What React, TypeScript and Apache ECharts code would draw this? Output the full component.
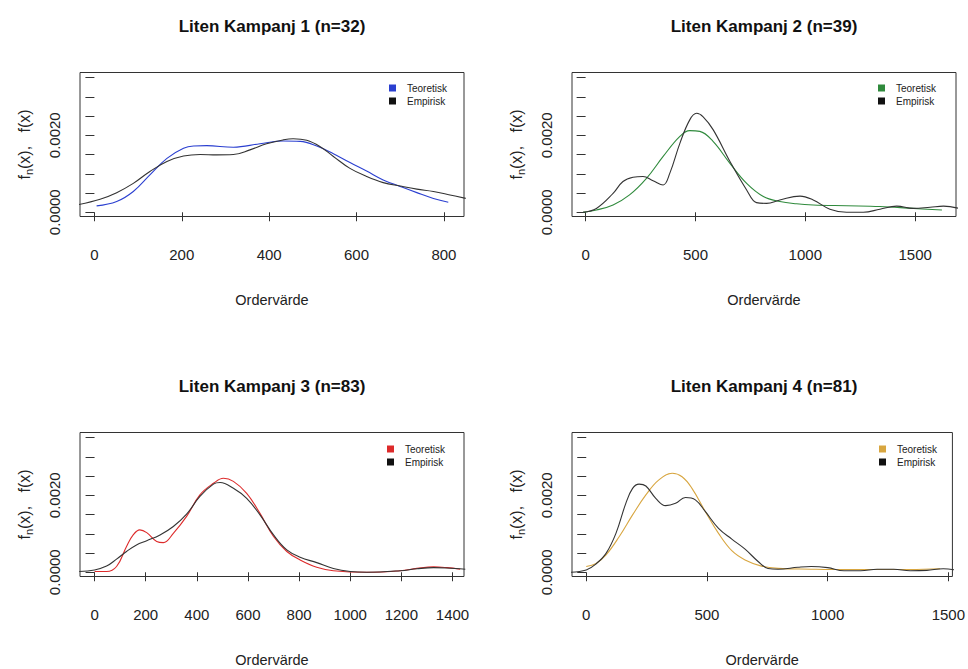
import React, { useEffect, useRef } from "react";
import * as echarts from "echarts";

// ---------- data ----------
const titles = [
  "Liten Kampanj 1 (n=32)",
  "Liten Kampanj 2 (n=39)",
  "Liten Kampanj 3 (n=83)",
  "Liten Kampanj 4 (n=81)",
];
const legendNames = ["Teoretisk", "Empirisk"];
const xAxisName = "Ordervärde";

const xTicks1 = [0, 200, 400, 600, 800];
const xTicks2 = [0, 500, 1000, 1500];
const xTicks3 = [0, 200, 400, 600, 800, 1000, 1200, 1400];
const xTicks4 = [0, 500, 1000, 1500];
const yTicks = [0, 0.0005, 0.001, 0.0015, 0.002, 0.0025, 0.003, 0.0035];
const yLabelTicks = [0, 0.002];

// Kampanj 1
const k1Teo = [
  [5, 0.000165], [51, 0.00028], [89, 0.00054], [127, 0.00097], [166, 0.0014],
  [204, 0.00166], [227, 0.00172], [257, 0.00173], [318, 0.00169], [379, 0.00178],
  [432, 0.00185], [471, 0.00184], [509, 0.00172], [547, 0.00152], [585, 0.00129],
  [623, 0.00107], [661, 0.00084], [700, 0.00067], [738, 0.00051], [776, 0.00036],
  [810, 0.00026],
];
const k1Emp = [
  [-40, 0.00019], [13, 0.00034], [51, 0.00051], [89, 0.00075], [127, 0.00106],
  [166, 0.00132], [204, 0.00146], [242, 0.0015], [280, 0.00149], [318, 0.0015],
  [356, 0.00162], [394, 0.00178], [432, 0.00188], [455, 0.00191], [486, 0.00187],
  [516, 0.00171], [547, 0.00145], [585, 0.00114], [623, 0.00093], [661, 0.00077],
  [700, 0.00068], [738, 0.0006], [776, 0.00054], [814, 0.00045], [850, 0.00036],
];
// Kampanj 2
const k2Teo = [
  [-12, 0], [49, 0.00006], [125, 0.00019], [200, 0.00045], [277, 0.00088],
  [353, 0.00145], [429, 0.00197], [474, 0.00212], [520, 0.0021], [580, 0.00184],
  [657, 0.00127], [733, 0.00075], [809, 0.00041], [884, 0.00028], [960, 0.00022],
  [1036, 0.00019], [1188, 0.00017], [1340, 0.00015], [1492, 0.0001], [1622, 0.00006],
];
const k2Emp = [
  [-12, 0], [49, 0.0001], [125, 0.00049], [170, 0.0008], [216, 0.00091],
  [261, 0.00093], [307, 0.00082], [353, 0.00071], [383, 0.00101], [429, 0.00179],
  [474, 0.0024], [505, 0.00257], [535, 0.00248], [581, 0.00214], [657, 0.00132],
  [733, 0.00058], [778, 0.00025], [824, 0.00023], [884, 0.00032], [976, 0.00042],
  [1036, 0.00032], [1112, 0.00008], [1188, 0], [1264, 0], [1340, 0.00008],
  [1416, 0.00016], [1492, 0.0001], [1568, 0.00013], [1629, 0.00016], [1700, 0.0001],
];
// Kampanj 3
const k3Teo = [
  [0, 0.00002], [47, 0.00002], [86, 0.00015], [125, 0.00067], [151, 0.00097],
  [177, 0.0011], [204, 0.00103], [243, 0.0008], [269, 0.00077], [308, 0.00101],
  [360, 0.00145], [412, 0.00201], [465, 0.00231], [504, 0.00244], [543, 0.00236],
  [595, 0.00205], [647, 0.00153], [700, 0.00093], [752, 0.00054], [804, 0.00032],
  [869, 0.00013], [934, 0.00004], [1065, 0], [1196, 0.00004], [1261, 0.0001],
  [1326, 0.00014], [1378, 0.00012], [1430, 0.00008],
];
const k3Emp = [
  [-60, 0.00002], [0, 0.00006], [47, 0.00016], [86, 0.00034], [125, 0.00054],
  [164, 0.00071], [204, 0.00082], [256, 0.00097], [308, 0.00119], [360, 0.00151],
  [412, 0.00197], [465, 0.00229], [491, 0.00233], [543, 0.00218], [595, 0.00192],
  [647, 0.00149], [700, 0.00097], [752, 0.00058], [804, 0.00039], [869, 0.00025],
  [934, 0.0001], [1000, 0.00002], [1065, 0], [1196, 0.00004], [1261, 0.00009],
  [1326, 0.00012], [1378, 0.00011], [1450, 0.00008],
];
// Kampanj 4
const k4Teo = [
  [0, 0.00015], [41, 0.00023], [82, 0.00045], [137, 0.00093], [192, 0.00149],
  [247, 0.00201], [301, 0.0024], [356, 0.00257], [397, 0.00248], [438, 0.00218],
  [493, 0.00158], [548, 0.00101], [603, 0.00056], [658, 0.00032], [726, 0.00016],
  [795, 0.0001], [932, 0.00008], [1068, 0.00007], [1205, 0.00007], [1342, 0.00007],
  [1466, 0.00009],
];
const k4Emp = [
  [-65, 0], [0, 0.00006], [41, 0.00022], [82, 0.00049], [123, 0.00101],
  [164, 0.00179], [192, 0.00218], [219, 0.00229], [247, 0.00224], [288, 0.00192],
  [329, 0.00173], [370, 0.00179], [411, 0.00194], [452, 0.00188], [493, 0.00158],
  [548, 0.00114], [603, 0.00086], [658, 0.0006], [712, 0.00028], [753, 0.0001],
  [795, 0.00008], [877, 0.00013], [932, 0.00015], [1000, 0.00012], [1068, 0.00004],
  [1137, 0.00004], [1205, 0.00008], [1274, 0.00008], [1342, 0.00004], [1411, 0.00005],
  [1479, 0.00009], [1530, 0.00006],
];

const teoData = [k1Teo, k2Teo, k3Teo, k4Teo];
const empData = [k1Emp, k2Emp, k3Emp, k4Emp];
const xTickSets = [xTicks1, xTicks2, xTicks3, xTicks4];

// ---------- styling / layout ----------
const FONT = "'Liberation Sans', Arial, Helvetica, sans-serif";
const teoColors = ["#2a3fd0", "#2f8a3c", "#dd2a2a", "#d8a640"];
const empColor = "#333333";
const xRanges = [
  [-33, 846],
  [-62, 1686],
  [-57, 1445],
  [-59, 1517],
];
const yMin = -0.00011;
const yMax = 0.00363;
const gridPos = [
  { left: 80, top: 72.5 },
  { left: 572, top: 72.5 },
  { left: 80, top: 432.5 },
  { left: 572, top: 432.5 },
];
const legendPos = [
  { left: 389, top: 82 },
  { left: 878, top: 82 },
  { left: 387, top: 443 },
  { left: 879, top: 443 },
];

export default function App() {
  const ref = useRef<HTMLDivElement>(null);

  useEffect(() => {
    if (!ref.current) return;
    const chart = echarts.init(ref.current, undefined, { renderer: "svg" });

    const grid = gridPos.map((p) => ({
      left: p.left,
      top: p.top,
      width: 384,
      height: 144,
      show: true,
      borderColor: "#333",
      borderWidth: 1,
      backgroundColor: "transparent",
    }));

    const xAxis = xTickSets.map((ticks, i) => ({
      type: "value",
      gridIndex: i,
      min: xRanges[i][0],
      max: xRanges[i][1],
      axisLine: { show: false },
      splitLine: { show: false },
      axisTick: {
        show: true,
        inside: false,
        length: 9,
        customValues: ticks,
        lineStyle: { color: "#333", width: 1 },
      },
      axisLabel: {
        show: true,
        customValues: ticks,
        margin: 30,
        fontSize: 15,
        color: "#222",
        fontFamily: FONT,
        formatter: (v: number) => String(v),
        showMinLabel: true,
        showMaxLabel: true,
        hideOverlap: false,
      },
      name: xAxisName,
      nameLocation: "middle",
      nameGap: 76,
      nameTextStyle: { fontSize: 14.5, color: "#222", fontFamily: FONT },
    }));

    const yAxis = [0, 1, 2, 3].map((i) => ({
      type: "value",
      gridIndex: i,
      min: yMin,
      max: yMax,
      axisLine: { show: false },
      splitLine: { show: false },
      axisTick: {
        show: true,
        inside: false,
        length: 9,
        customValues: yTicks,
        lineStyle: { color: "#333", width: 1 },
      },
      axisLabel: {
        show: true,
        customValues: yLabelTicks,
        rotate: 90,
        margin: 18,
        fontSize: 15,
        color: "#222",
        fontFamily: FONT,
        formatter: (v: number) => v.toFixed(4),
        showMinLabel: true,
        showMaxLabel: true,
      },
      name: "{a|f}{b|n}{a|(x),   f(x)}",
      nameLocation: "middle",
      nameGap: 46,
      nameTextStyle: {
        fontFamily: FONT,
        color: "#222",
        rich: {
          a: { fontSize: 16, lineHeight: 20, verticalAlign: "middle", color: "#222", fontFamily: FONT },
          b: { fontSize: 11, lineHeight: 8, verticalAlign: "bottom", color: "#222", fontFamily: FONT },
        },
      },
    }));

    const series: any[] = [];
    for (let i = 0; i < 4; i++) {
      series.push({
        type: "line",
        name: `${legendNames[0]} ${i + 1}`,
        xAxisIndex: i,
        yAxisIndex: i,
        data: teoData[i],
        showSymbol: false,
        symbol: "none",
        smooth: 0.4,
        clip: true,
        color: teoColors[i],
        lineStyle: { color: teoColors[i], width: 1.1 },
        itemStyle: { color: teoColors[i] },
      });
      series.push({
        type: "line",
        name: `${legendNames[1]} ${i + 1}`,
        xAxisIndex: i,
        yAxisIndex: i,
        data: empData[i],
        showSymbol: false,
        symbol: "none",
        smooth: 0.4,
        clip: true,
        color: empColor,
        lineStyle: { color: empColor, width: 1.1 },
        itemStyle: { color: "#111" },
      });
    }

    const legend = legendPos.map((p, i) => ({
      data: [`${legendNames[0]} ${i + 1}`, `${legendNames[1]} ${i + 1}`],
      left: p.left,
      top: p.top,
      orient: "vertical",
      icon: "rect",
      itemWidth: 7,
      itemHeight: 7,
      itemGap: 1,
      padding: 0,
      selectedMode: false,
      formatter: (name: string) => name.replace(/ \d$/, ""),
      textStyle: { fontSize: 10, color: "#222", fontFamily: FONT, padding: [0, 0, 0, 6], lineHeight: 12 },
    }));

    const title = titles.map((t, i) => ({
      text: t,
      left: gridPos[i].left + 192,
      top: gridPos[i].top - 55,
      textAlign: "center",
      padding: 0,
      textStyle: { fontSize: 17, fontWeight: "bold", color: "#111", fontFamily: FONT },
    }));

    chart.setOption({
      animation: false,
      backgroundColor: "#ffffff",
      textStyle: { fontFamily: FONT },
      title,
      legend,
      grid,
      xAxis,
      yAxis,
      series,
    });

    return () => chart.dispose();
  }, []);

  return (
    <div
      ref={ref}
      style={{ position: "absolute", left: 0, top: 0, width: 968, height: 669 }}
    />
  );
}
